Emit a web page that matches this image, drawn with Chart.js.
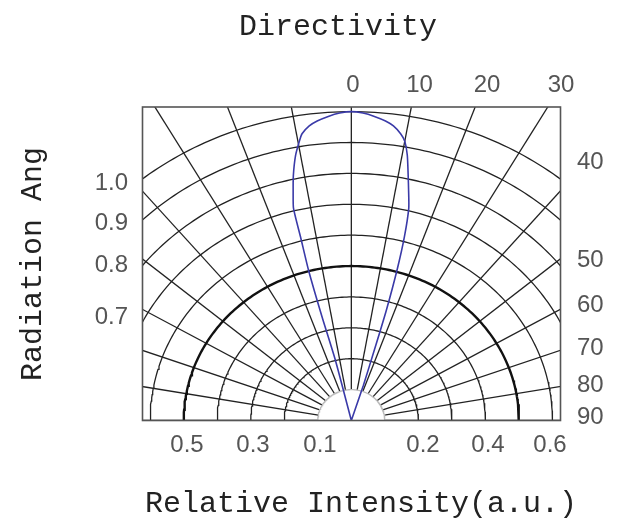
<!DOCTYPE html>
<html>
<head>
<meta charset="utf-8">
<title>Directivity</title>
<script src="https://cdn.jsdelivr.net/npm/chart.js@4.4.0/dist/chart.umd.min.js"></script>
<style>
  html, body { margin: 0; padding: 0; background: #fff; }
  #wrap { width: 630px; height: 530px; }
</style>
</head>
<body>
<div id="wrap"><canvas id="chart" width="630" height="530"></canvas></div>
<script>
// === Data ===
const angleTicks = [-90, -80, -70, -60, -50, -40, -30, -20, -10, 0, 10, 20, 30, 40, 50, 60, 70, 80, 90];
const radiusTicks = [0.1, 0.2, 0.3, 0.4, 0.5, 0.6, 0.7, 0.8, 0.9, 1.0];
const boldRadius = 0.5;

// radiation pattern: angle (deg) / relative intensity, left side -> top -> right side
const curveAngles = [-13.5, -13.7, -14.6, -14.7, -14.3, -14.1, -13.2, -12.3, -11, -9.8, -9, -7.5, -6, -4, -2,
  0, 2, 4, 6, 7.5, 9, 10, 11, 12, 13, 14, 14.9, 15.6, 16.3, 16.7, 17.5, 18];
const curveIntensity = [0, 0.2, 0.347, 0.503, 0.614, 0.708, 0.76, 0.812, 0.873, 0.915, 0.94, 0.962, 0.975, 0.987, 0.996,
  1.0, 0.996, 0.987, 0.975, 0.962, 0.94, 0.918, 0.875, 0.815, 0.76, 0.708, 0.616, 0.512, 0.373, 0.25, 0.12, 0];

const topLabels = ["0", "10", "20", "30"];
const rightLabels = ["40", "50", "60", "70", "80", "90"];
const leftLabels = ["1.0", "0.9", "0.8", "0.7"];
const bottomLabels = ["0.5", "0.3", "0.1", "0.2", "0.4", "0.6"];

// === Helpers ===
function polar(angle, r) {
  const a = angle * Math.PI / 180;
  return { x: r * Math.sin(a), y: r * Math.cos(a) };
}

const datasets = [];

// pattern curve (first = drawn on top)
datasets.push({
  data: curveAngles.map((a, i) => polar(a, curveIntensity[i])),
  showLine: true,
  borderColor: "#3a3aa8",
  borderWidth: 1.6,
  pointRadius: 0,
  tension: 0.2
});

// circles
radiusTicks.forEach(r => {
  const pts = [];
  for (let a = -90; a <= 90; a += 1) pts.push(polar(a, r));
  datasets.push({
    data: pts,
    showLine: true,
    borderColor: r === boldRadius ? "#111" : (r === radiusTicks[0] ? "#bbb" : "#222"),
    borderWidth: r === boldRadius ? 2.4 : 1.3,
    pointRadius: 0,
    tension: 0
  });
});

// radial lines
angleTicks.forEach(a => {
  datasets.push({
    data: [polar(a, radiusTicks[0]), polar(a, 1.6)],
    showLine: true,
    borderColor: "#222",
    borderWidth: 1.3,
    pointRadius: 0
  });
});

// === Frame + texts ===
const frameAndText = {
  id: "frameAndText",
  afterDatasetsDraw(chart) {
    const { ctx, chartArea: ca } = chart;
    ctx.save();
    ctx.strokeStyle = "#555";
    ctx.lineWidth = 1.6;
    ctx.strokeRect(ca.left, ca.top, ca.right - ca.left, ca.bottom - ca.top);
    ctx.restore();
  },
  afterDraw(chart) {
    const ctx = chart.ctx;
    ctx.save();
    ctx.textBaseline = "middle";

    // titles
    ctx.fillStyle = "#222";
    ctx.font = "30px 'Liberation Mono'";
    ctx.textAlign = "center";
    ctx.fillText("Directivity", 338, 27);
    ctx.fillText("Relative Intensity(a.u.)", 361, 504);
    ctx.save();
    ctx.translate(33, 264);
    ctx.rotate(-Math.PI / 2);
    ctx.fillText("Radiation Ang", 0, 0);
    ctx.restore();

    // tick labels
    ctx.fillStyle = "#555";
    ctx.font = "24px 'Liberation Sans'";
    const topX = [353, 419.5, 487, 561];
    topLabels.forEach((t, i) => ctx.fillText(t, topX[i], 85));
    const botX = [187, 253, 320, 423, 488, 550];
    bottomLabels.forEach((t, i) => ctx.fillText(t, botX[i], 445));

    ctx.textAlign = "left";
    const rightY = [162, 260, 305, 348, 385, 417];
    rightLabels.forEach((t, i) => ctx.fillText(t, 577, rightY[i]));

    ctx.textAlign = "right";
    const leftY = [183, 223, 265, 317];
    leftLabels.forEach((t, i) => ctx.fillText(t, 128, leftY[i]));
    ctx.restore();
  }
};

// === Chart ===
new Chart(document.getElementById("chart"), {
  type: "scatter",
  data: { datasets },
  options: {
    responsive: false,
    animation: false,
    devicePixelRatio: 1,
    layout: { padding: { left: 142.5, right: 69.5, top: 107, bottom: 109.5 } },
    plugins: { legend: { display: false }, tooltip: { enabled: false }, title: { display: false } },
    scales: {
      x: { type: "linear", min: -0.623, max: 0.624, display: false },
      y: { type: "linear", min: 0, max: 1.015, display: false }
    }
  },
  plugins: [frameAndText]
});
</script>
</body>
</html>
